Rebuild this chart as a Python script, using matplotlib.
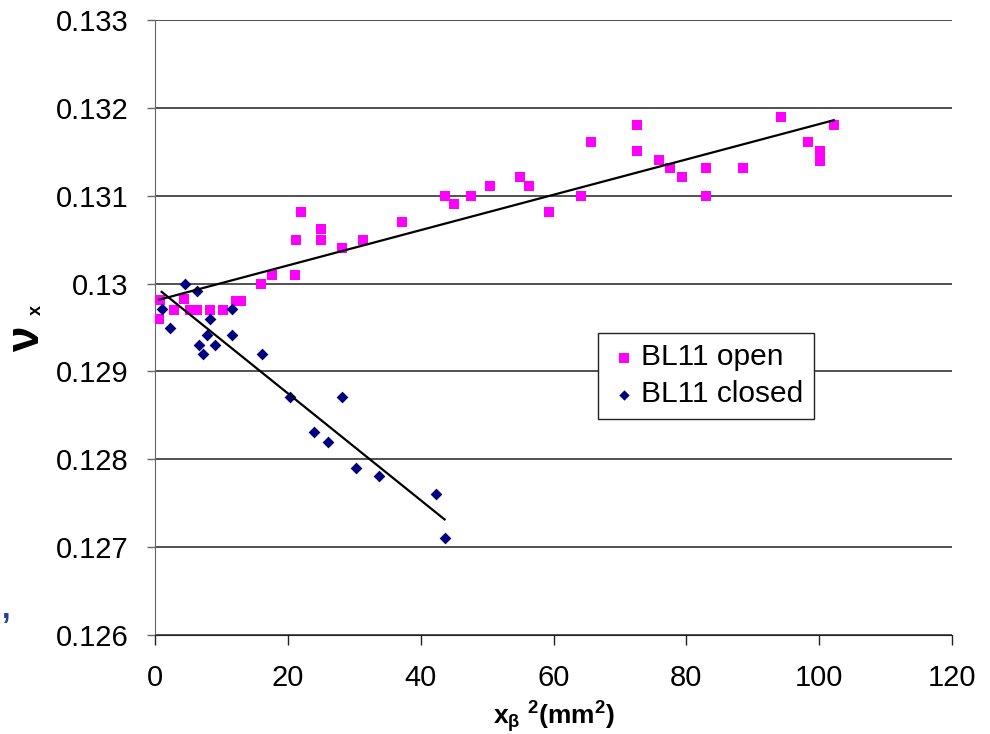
import matplotlib
matplotlib.use("Agg")
import matplotlib.pyplot as plt
import numpy as np

plt.rcParams['font.family'] = ['Liberation Sans', 'DejaVu Sans']
plt.rcParams['mathtext.fontset'] = 'custom'
plt.rcParams['mathtext.rm'] = 'Liberation Sans'
plt.rcParams['mathtext.it'] = 'Liberation Sans:italic'
plt.rcParams['mathtext.bf'] = 'Liberation Sans:bold'

# BL11 open (squares)
open_x = [0.6, 0.75, 2.9, 4.4, 5.2, 6.3, 8.3, 10.2, 12.2, 13.0, 16.0, 17.6,
          21.1, 21.2, 22.0, 25.0, 25.0, 28.1, 31.3, 37.2, 43.6, 45.0, 47.6,
          50.4, 54.9, 56.3, 59.3, 64.2, 65.7, 72.5, 72.5, 75.9, 77.5, 79.3,
          83.0, 83.0, 88.6, 94.3, 98.3, 100.2, 100.2, 102.2]
open_y = [0.1296, 0.12981, 0.1297, 0.12982, 0.1297, 0.1297, 0.1297, 0.1297,
          0.1298, 0.1298, 0.1300, 0.1301, 0.1301, 0.1305, 0.13082, 0.13062,
          0.1305, 0.13041, 0.1305, 0.1307, 0.1310, 0.13091, 0.1310, 0.13111,
          0.13121, 0.13111, 0.13081, 0.1310, 0.13161, 0.13181, 0.13151,
          0.13141, 0.13131, 0.13121, 0.13131, 0.1310, 0.13131, 0.1319,
          0.13161, 0.13151, 0.1314, 0.13181]

# BL11 closed (diamonds)
closed_x = [1.0, 2.3, 4.5, 6.3, 6.7, 7.3, 7.9, 8.3, 9.1, 11.6, 11.6, 16.1,
            20.3, 24.0, 26.1, 28.1, 30.3, 33.7, 42.3, 43.6]
closed_y = [0.12971, 0.1295, 0.1300, 0.12991, 0.1293, 0.1292, 0.12941, 0.1296,
            0.1293, 0.12971, 0.12941, 0.1292, 0.12871, 0.12831, 0.1282,
            0.12871, 0.1279, 0.12781, 0.1276, 0.1271]

x_ticks = [0, 20, 40, 60, 80, 100, 120]
y_ticks = [0.126, 0.127, 0.128, 0.129, 0.130, 0.131, 0.132, 0.133]
y_ticklabels = ['0.126', '0.127', '0.128', '0.129', '0.13', '0.131', '0.132', '0.133']

W, H = 990, 734
fig = plt.figure(figsize=(W / 100, H / 100), dpi=100)
ax = fig.add_axes([155 / W, (H - 635) / H, 797 / W, 615 / H])

ax.set_xlim(0, 120)
ax.set_ylim(0.126, 0.133)
ax.set_xticks(x_ticks)
ax.set_yticks(y_ticks)
ax.set_yticklabels(y_ticklabels)

ax.grid(axis='y', color='#222222', linewidth=1.1, zorder=0)
ax.set_axisbelow(True)
for s in ['top', 'right']:
    ax.spines[s].set_visible(False)
ax.spines['left'].set_color('#666666')
ax.spines['bottom'].set_color('#222222')
ax.tick_params(axis='y', direction='out', length=6, width=1, color='#666666',
               labelsize=21, pad=13)
ax.tick_params(axis='x', direction='out', length=7, width=1, color='#222222',
               labelsize=21, pad=14)

ax.scatter(open_x, open_y, marker='s', s=60, color='#FF00FF', linewidths=0,
           label='BL11 open', zorder=3)
ax.scatter(closed_x, closed_y, marker='D', s=36, color='#000080', linewidths=0,
           label='BL11 closed', zorder=3)

# linear trendlines
for xs, ys in [(open_x, open_y), (closed_x, closed_y)]:
    k, b = np.polyfit(xs, ys, 1)
    xx = np.array([min(xs), max(xs)])
    ax.plot(xx, k * xx + b, color='black', linewidth=1.6, zorder=4)

leg = ax.legend(loc='upper left', bbox_to_anchor=(0.556, 0.491),
                borderaxespad=0, fontsize=21.5, frameon=True, fancybox=False,
                edgecolor='#222222', framealpha=1, handletextpad=0.1,
                borderpad=0.35, labelspacing=0.3, handlelength=1.0,
                scatterpoints=1)
leg.get_frame().set_linewidth(1.0)
leg.legend_handles[0].set_sizes([50])
leg.legend_handles[1].set_sizes([28])

ax.set_xlabel(r'$\mathbf{x_{\beta}\ ^{2}(mm^{2})}$', fontsize=19, labelpad=5)

fig.text(27 / W, 1 - 339 / H, 'ν', rotation=90, fontsize=33, fontweight='bold',
         ha='center', va='center')
fig.text(36 / W, 1 - 310 / H, 'x', rotation=90, fontsize=13, fontweight='bold',
         ha='center', va='center')
fig.text(6 / W, 1 - 610 / H, ',', fontsize=22, fontweight='bold',
         color='#1F3FA8', ha='center', va='center')

fig.savefig('out.png', dpi=100)
